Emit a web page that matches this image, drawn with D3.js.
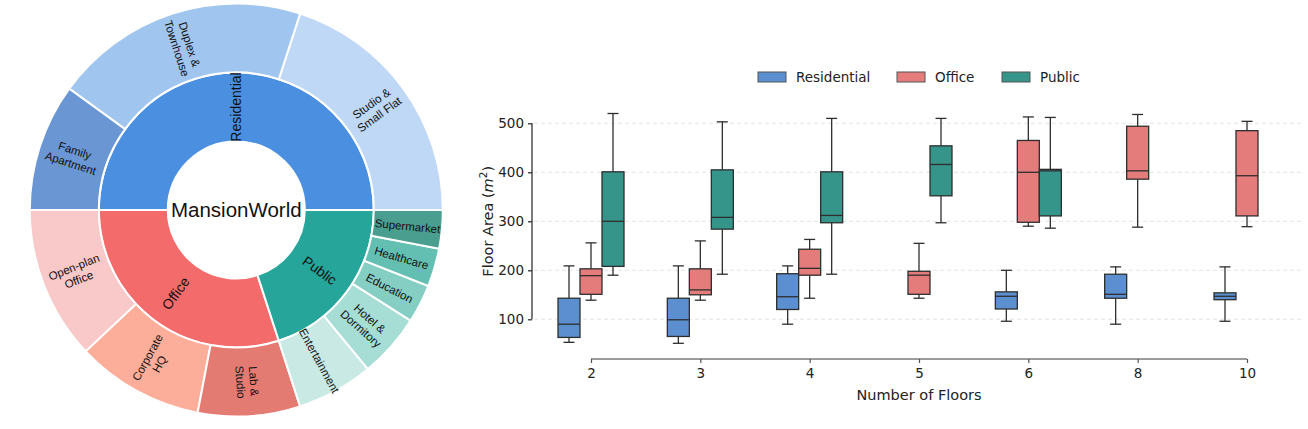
<!DOCTYPE html>
<html>
<head>
<meta charset="utf-8">
<script src="https://cdn.jsdelivr.net/npm/d3@7"></script>
<style>
  body { margin: 0; background: #fff; }
  svg { display: block; }
</style>
</head>
<body>
<svg id="chart"></svg>
<script>
// ---- data ----
const rootName = 'MansionWorld';
const categories = ['Residential', 'Office', 'Public'];
const residentialTypes = ['Studio &\nSmall Flat', 'Duplex &\nTownhouse', 'Family\nApartment'];
const residentialShares = [20, 20, 10];
const officeTypes = ['Open-plan\nOffice', 'Corporate\nHQ', 'Lab &\nStudio'];
const officeShares = [12, 10, 8];
const publicTypes = ['Entertainment', 'Hotel &\nDormitory', 'Education', 'Healthcare', 'Supermarket'];
const publicShares = [6, 5, 3, 3, 3];

const categoryColors = ['#4a8fe0', '#f36b6b', '#26a69a'];
const residentialColors = ['#bfd8f6', '#a0c5ee', '#6a97d3'];
const officeColors = ['#f9c9c9', '#fdae9a', '#e47b73'];
const publicColors = ['#c9e9e5', '#a6ddd5', '#85cec4', '#64bfb3', '#4a9e8f'];

const floors = ['2', '3', '4', '5', '6', '8', '10'];
// [min, q1, median, q3, max] per floor count, null = no buildings
const residentialBoxes = [
    [53, 63, 90, 143, 209],
    [51, 65, 99, 143, 209],
    [90, 120, 146, 193, 209],
    null,
    [96, 121, 147, 156, 200],
    [90, 143, 151, 192, 207],
    [96, 140, 147, 154, 207]
];
const officeBoxes = [
    [139, 151, 189, 203, 256],
    [139, 150, 160, 203, 260],
    [143, 190, 204, 243, 263],
    [143, 151, 190, 198, 255],
    [290, 298, 400, 465, 513],
    [288, 386, 403, 494, 518],
    [289, 311, 393, 485, 504]
];
const publicBoxes = [
    [190, 208, 300, 401, 520],
    [192, 284, 308, 405, 503],
    [192, 297, 312, 401, 510],
    [297, 352, 416, 454, 510],
    [286, 311, 403, 406, 512],
    null,
    null
];
const boxColors = ['#5b8fd0', '#e57c7c', '#35958a'];
const yTicks = [100, 200, 300, 400, 500];

// ---- svg ----
const size = { w: 1308, h: 429 };
const svg = d3.select('svg#chart')
    .attr('width', size.w)
    .attr('height', size.h);

// ================= SUNBURST =================
const sun = { cx: 236.3, cy: 210, r0: 68.5, r1: 137.5, r2: 206.5 };

const treeData = {
    name: rootName,
    children: [
        { name: categories[0], color: categoryColors[0],
          children: residentialTypes.map((n, i) => ({ name: n, value: residentialShares[i], color: residentialColors[i] })) },
        { name: categories[1], color: categoryColors[1],
          children: officeTypes.map((n, i) => ({ name: n, value: officeShares[i], color: officeColors[i] })) },
        { name: categories[2], color: categoryColors[2],
          children: publicTypes.map((n, i) => ({ name: n, value: publicShares[i], color: publicColors[i] })) }
    ]
};

const root = d3.hierarchy(treeData).sum(d => d.value || 0);
// x = math angle (counter-clockwise from 3 o'clock), y = depth
d3.partition().size([2 * Math.PI, 3])(root);

const ringR = [0, [sun.r0, sun.r1], [sun.r1, sun.r2]];
const arc = d3.arc()
    .startAngle(d => Math.PI / 2 - d.x1)
    .endAngle(d => Math.PI / 2 - d.x0)
    .innerRadius(d => ringR[d.depth][0])
    .outerRadius(d => ringR[d.depth][1]);

const sunG = svg.append('g')
    .attr('transform', `translate(${sun.cx}, ${sun.cy})`);

const nodes = root.descendants().filter(d => d.depth > 0);

sunG.selectAll('path')
    .data(nodes)
    .join('path')
    .attr('d', arc)
    .attr('fill', d => d.data.color)
    .attr('stroke', '#fff')
    .attr('stroke-width', 2);

sunG.selectAll('text.seg')
    .data(nodes)
    .join('text')
    .classed('seg', true)
    .attr('font-family', '"Liberation Sans", Arial, sans-serif')
    .attr('font-size', d => d.depth === 1 ? 14 : 11.5)
    .attr('fill', '#111')
    .attr('text-anchor', 'middle')
    .attr('transform', d => {
        const a = (d.x0 + d.x1) / 2;
        const r = (ringR[d.depth][0] + ringR[d.depth][1]) / 2;
        const x = r * Math.cos(a);
        const y = -r * Math.sin(a);
        let deg = a * 180 / Math.PI;
        if (deg > 90.5 && deg < 270) deg -= 180;
        else if (deg >= 270) deg -= 360;
        return `translate(${x}, ${y}) rotate(${-deg})`;
    })
    .each(function (d) {
        const lines = d.data.name.split('\n');
        const lh = d.depth === 1 ? 15 : 13.5;
        const t = d3.select(this);
        lines.forEach((ln, i) => {
            t.append('tspan')
                .attr('x', 0)
                .attr('y', (i - (lines.length - 1) / 2) * lh)
                .attr('dy', '0.35em')
                .text(ln);
        });
    });

sunG.append('text')
    .attr('text-anchor', 'middle')
    .attr('dy', '0.35em')
    .attr('font-family', '"Liberation Sans", Arial, sans-serif')
    .attr('font-size', 20.5)
    .attr('fill', '#111')
    .text(rootName);

// ================= BOX PLOT =================
const plotG = svg.append('g');
const font = '"DejaVu Sans", sans-serif';

const x = d3.scalePoint().domain(floors).range([591, 1247]);
const hue = d3.scaleBand().domain(categories).range([-33, 33]);
const y = d3.scaleLinear().domain([100, 500]).range([319.3, 123.3]);

// gridlines
plotG.append('g')
    .selectAll('line')
    .data(yTicks)
    .join('line')
    .attr('x1', 534).attr('x2', 1302)
    .attr('y1', d => y(d)).attr('y2', d => y(d))
    .attr('stroke', '#dedede')
    .attr('stroke-width', 0.8)
    .attr('stroke-dasharray', '4,3');

// y axis
const yAxisG = plotG.append('g')
    .attr('transform', 'translate(532, 0)')
    .call(d3.axisLeft(y).tickValues(yTicks).tickSize(4).tickPadding(4));
yAxisG.select('.domain').attr('d', `M0,${y(100)}V${y(500)}`).attr('stroke', '#222').attr('stroke-width', 1.2);
yAxisG.selectAll('.tick line').attr('stroke', '#222').attr('stroke-width', 1.2);
yAxisG.selectAll('.tick text').attr('font-family', font).attr('font-size', 13.5).attr('fill', '#222');

// x axis
const xAxisG = plotG.append('g')
    .attr('transform', 'translate(0, 359)')
    .call(d3.axisBottom(x).tickSize(4).tickPadding(5));
xAxisG.select('.domain').attr('d', `M${x(floors[0])},0H${x(floors[floors.length - 1])}`)
    .attr('stroke', '#7a7a7a').attr('stroke-width', 1.6);
xAxisG.selectAll('.tick line').attr('stroke', '#555').attr('stroke-width', 1.2);
xAxisG.selectAll('.tick text').attr('font-family', font).attr('font-size', 13.5).attr('fill', '#222');

// axis labels
plotG.append('text')
    .attr('transform', `translate(493, ${y(300)}) rotate(-90)`)
    .attr('text-anchor', 'middle')
    .attr('font-family', font)
    .attr('font-size', 14.5)
    .attr('fill', '#222')
    .call(t => {
        t.append('tspan').text('Floor Area (');
        t.append('tspan').attr('font-style', 'italic').text('m');
        t.append('tspan').attr('font-size', 10.5).attr('dy', -6).text('2');
        t.append('tspan').attr('dy', 6).text(')');
    });

plotG.append('text')
    .attr('x', x('5'))
    .attr('y', 400)
    .attr('text-anchor', 'middle')
    .attr('font-family', font)
    .attr('font-size', 14.5)
    .attr('fill', '#222')
    .text('Number of Floors');

// boxes
const allBoxes = [residentialBoxes, officeBoxes, publicBoxes];
const boxRows = [];
allBoxes.forEach((arr, si) => {
    arr.forEach((b, fi) => {
        if (b) boxRows.push({ series: categories[si], color: boxColors[si], floor: floors[fi], stats: b });
    });
});

const bw = hue.bandwidth();
const edge = '#2e2e2e';
const boxG = plotG.selectAll('g.box')
    .data(boxRows)
    .join('g')
    .classed('box', true)
    .attr('transform', d => `translate(${x(d.floor) + hue(d.series) + bw / 2}, 0)`);

// whiskers
boxG.append('line')
    .attr('x1', 0).attr('x2', 0)
    .attr('y1', d => y(d.stats[4])).attr('y2', d => y(d.stats[3]))
    .attr('stroke', edge).attr('stroke-width', 1.3);
boxG.append('line')
    .attr('x1', 0).attr('x2', 0)
    .attr('y1', d => y(d.stats[1])).attr('y2', d => y(d.stats[0]))
    .attr('stroke', edge).attr('stroke-width', 1.3);
// caps
boxG.selectAll('line.cap')
    .data(d => [d.stats[0], d.stats[4]])
    .join('line')
    .classed('cap', true)
    .attr('x1', -bw / 4).attr('x2', bw / 4)
    .attr('y1', v => y(v)).attr('y2', v => y(v))
    .attr('stroke', edge).attr('stroke-width', 1.3);
// box
boxG.append('rect')
    .attr('x', -bw / 2)
    .attr('width', bw)
    .attr('y', d => y(d.stats[3]))
    .attr('height', d => y(d.stats[1]) - y(d.stats[3]))
    .attr('fill', d => d.color)
    .attr('stroke', edge)
    .attr('stroke-width', 1.3);
// median
boxG.append('line')
    .attr('x1', -bw / 2).attr('x2', bw / 2)
    .attr('y1', d => y(d.stats[2])).attr('y2', d => y(d.stats[2]))
    .attr('stroke', edge).attr('stroke-width', 1.3);

// legend
const legendX = [758, 897, 1002];
const legendG = plotG.selectAll('g.legend')
    .data(categories)
    .join('g')
    .classed('legend', true)
    .attr('transform', (d, i) => `translate(${legendX[i]}, 72)`);
legendG.append('rect')
    .attr('width', 28).attr('height', 10)
    .attr('fill', (d, i) => boxColors[i])
    .attr('stroke', '#555').attr('stroke-width', 1);
legendG.append('text')
    .attr('x', 38).attr('y', 5)
    .attr('dy', '0.35em')
    .attr('font-family', font)
    .attr('font-size', 13.5)
    .attr('fill', '#222')
    .text(d => d);
</script>
</body>
</html>
